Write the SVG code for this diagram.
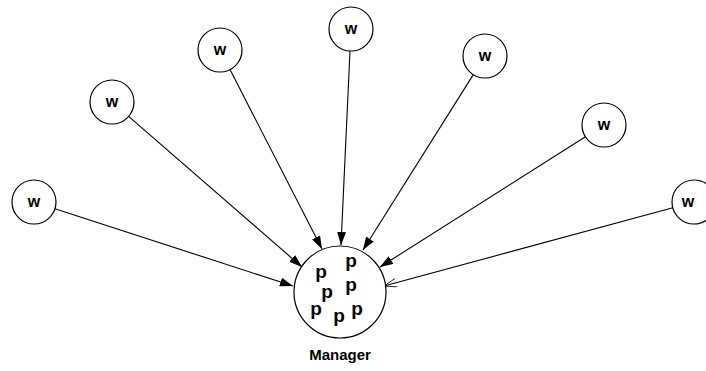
<svg xmlns="http://www.w3.org/2000/svg" width="706" height="371" viewBox="0 0 706 371">
<style>
.node{fill:#fff;stroke:#000;stroke-width:1.2}
.w{font-family:"Liberation Sans",Arial,sans-serif;font-weight:bold;font-size:16px;text-anchor:middle;fill:#000}
.p{font-family:"Liberation Sans",Arial,sans-serif;font-weight:bold;font-size:19px;text-anchor:middle;fill:#000}
.lbl{font-family:"Liberation Sans",Arial,sans-serif;font-weight:bold;font-size:15px;text-anchor:middle;fill:#000}
.edge{stroke:#000;stroke-width:1.1;fill:none}
</style>
<defs>
<marker id="ah" markerUnits="userSpaceOnUse" markerWidth="14" markerHeight="10" refX="13" refY="4.5" orient="auto">
<path d="M0,0 L13,4.5 L0,9 z" fill="#000"/>
</marker>
<marker id="ao" markerUnits="userSpaceOnUse" markerWidth="15" markerHeight="11" refX="13" refY="4.5" orient="auto">
<path d="M0,0 L13,4.5 L0,9" fill="none" stroke="#000" stroke-width="0.8"/>
</marker>
</defs>
<rect width="706" height="371" fill="#fff"/>
<g id="connectors">
<line class="edge" x1="54.9" y1="208.8" x2="293" y2="286" marker-end="url(#ah)"/>
<line class="edge" x1="128.6" y1="116.4" x2="302" y2="267" marker-end="url(#ah)"/>
<line class="edge" x1="230" y1="69.6" x2="322" y2="249" marker-end="url(#ah)"/>
<line class="edge" x1="350" y1="51" x2="341" y2="245" marker-end="url(#ah)"/>
<line class="edge" x1="473.3" y1="74.6" x2="363" y2="250" marker-end="url(#ah)"/>
<line class="edge" x1="585.4" y1="136.8" x2="380" y2="267" marker-end="url(#ah)"/>
<line class="edge" x1="672.8" y1="207.8" x2="384" y2="286" marker-end="url(#ao)"/>
</g>
<g id="w1"><circle class="node" cx="34" cy="202" r="22"/><text class="w" x="34" y="207">w</text></g>
<g id="w2"><circle class="node" cx="112" cy="102" r="22"/><text class="w" x="112" y="107">w</text></g>
<g id="w3"><circle class="node" cx="220" cy="50" r="22"/><text class="w" x="220" y="55">w</text></g>
<g id="w4"><circle class="node" cx="351" cy="29" r="22"/><text class="w" x="351" y="34">w</text></g>
<g id="w5"><circle class="node" cx="485" cy="56" r="22"/><text class="w" x="485" y="61">w</text></g>
<g id="w6"><circle class="node" cx="604" cy="125" r="22"/><text class="w" x="604" y="130">w</text></g>
<g id="w7"><circle class="node" cx="694" cy="202" r="22"/><text class="w" x="688" y="207">w</text></g>
<g id="manager">
<circle class="node" cx="340" cy="292" r="46"/>
<text class="p" x="321" y="278">p</text>
<text class="p" x="351" y="267">p</text>
<text class="p" x="327" y="298">p</text>
<text class="p" x="351" y="291">p</text>
<text class="p" x="316" y="315">p</text>
<text class="p" x="339" y="322">p</text>
<text class="p" x="357" y="315">p</text>
<text class="lbl" x="340" y="360">Manager</text>
</g>
</svg>
